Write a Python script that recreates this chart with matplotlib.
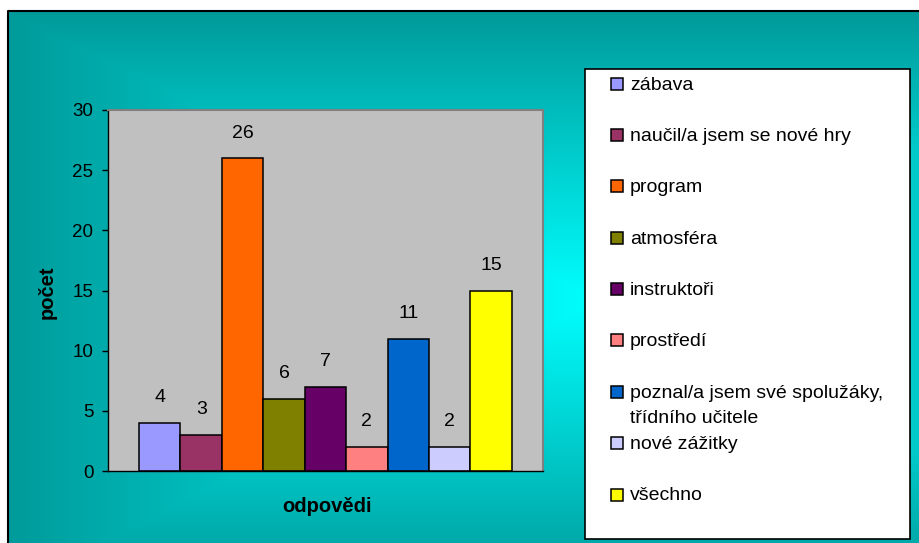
import numpy as np
import matplotlib
matplotlib.use('Agg')
import matplotlib.pyplot as plt
from matplotlib.patches import Rectangle

categories = ['zábava', 'naučil/a jsem se nové hry', 'program', 'atmosféra', 'instruktoři',
              'prostředí', 'poznal/a jsem své spolužáky,\ntřídního učitele', 'nové zážitky', 'všechno']
values = [4, 3, 26, 6, 7, 2, 11, 2, 15]
colors = ['#9999FF', '#993366', '#FF6600', '#808000', '#660066',
          '#FF8080', '#0066CC', '#CCCCFF', '#FFFF00']
yticks = [0, 5, 10, 15, 20, 25, 30]
ylabel = 'počet'
xlabel = 'odpovědi'

plt.rcParams['font.family'] = ['Liberation Sans', 'DejaVu Sans']

W, H = 920, 543
fig = plt.figure(figsize=(W / 100, H / 100), dpi=100)
fig.patch.set_facecolor('white')

# background (chart area) in pixel coordinates
bg = fig.add_axes([0, 0, 1, 1], zorder=0)
x0, y0, x1, y1 = 8, 11, 920, 543
cx, cy, hw, hh = 600, 300, 600, 290
xs = np.arange(x0, x1) + 0.5
ys = np.arange(y0, y1) + 0.5
X, Y = np.meshgrid(xs, ys)
t = np.clip(np.maximum(np.abs(X - cx) / hw, np.abs(Y - cy) / hh), 0, 1)
c_in = np.array([0, 255, 255]) / 255.0
c_out = np.array([0, 153, 153]) / 255.0
img = c_in + (c_out - c_in) * t[..., None]
bg.imshow(img, extent=(x0, x1, y1, y0), aspect='auto', interpolation='bilinear')
bg.plot([x0, x0, x1], [y1, y0, y0], color='black', lw=1.5, solid_capstyle='butt')
bg.set_xlim(0, W)
bg.set_ylim(H, 0)
bg.axis('off')

# axis titles
bg.text(47, 292, ylabel, rotation=90, ha='center', va='center',
        fontsize=14.5, fontweight='bold', color='black')
bg.text(327, 507, xlabel, ha='center', va='center',
        fontsize=14.5, fontweight='bold', color='black')

# legend (manual)
bg.add_patch(Rectangle((585, 69), 325, 470, facecolor='white', edgecolor='black', lw=1.2))
for i, (lab, col) in enumerate(zip(categories, colors)):
    yc = 83.7 + i * 51.35
    bg.add_patch(Rectangle((611, yc - 6), 12, 12, facecolor=col, edgecolor='black', lw=1.1))
    for k, line in enumerate(lab.split('\n')):
        bg.text(630, yc + 6 + k * 25, line, ha='left', va='baseline',
                fontsize=14, color='black')

# plot area
ax = fig.add_axes([108 / W, 1 - 471 / H, (543 - 108) / W, (471 - 110) / H], zorder=1)
ax.set_facecolor('#C0C0C0')
pos = np.arange(len(values))
bars = ax.bar(pos, values, width=1.0, color=colors, edgecolor='black', linewidth=1.1, zorder=2)
ax.set_xlim(-1.25, 9.25)
ax.set_ylim(0, 30)
ax.set_yticks(yticks)
ax.set_xticks([])
ax.tick_params(axis='y', direction='out', length=4.5, width=1, pad=6,
               labelsize=13.5, color='black', labelcolor='black')
for s in ['top', 'right']:
    ax.spines[s].set_color('#808080')
    ax.spines[s].set_linewidth(1.5)
for s in ['left', 'bottom']:
    ax.spines[s].set_color('black')
    ax.spines[s].set_linewidth(1.0)
for b, v in zip(bars, values):
    ax.annotate(str(v), (b.get_x() + b.get_width() / 2, v), xytext=(0, 18),
                textcoords='offset points', ha='center', va='center',
                fontsize=14, color='black', annotation_clip=False)

fig.savefig('out.png', dpi=100)
